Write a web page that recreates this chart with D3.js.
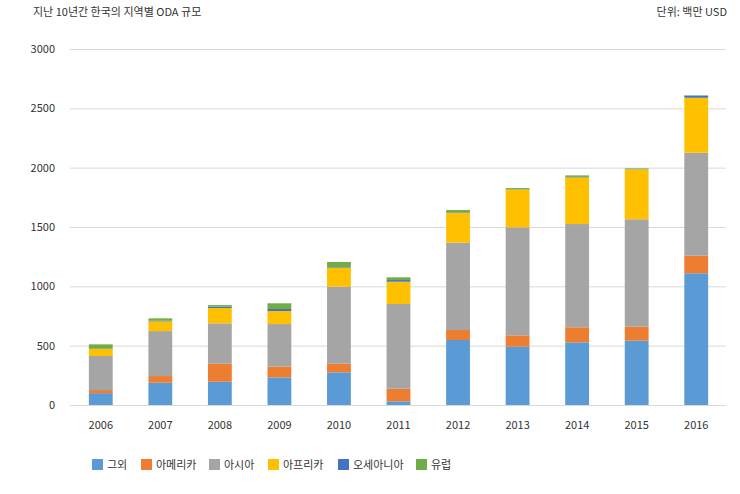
<!DOCTYPE html>
<html>
<head>
<meta charset="utf-8">
<script src="https://cdn.jsdelivr.net/npm/d3@7"></script>
<style>
  body { margin: 0; background: #fff; }
  text { font-family: "Noto Sans CJK KR", "Noto Sans", sans-serif; }
</style>
</head>
<body>
<div id="chart"></div>
<script>
var years = ["2006", "2007", "2008", "2009", "2010", "2011", "2012", "2013", "2014", "2015", "2016"];
var seriesNames = ["그외", "아메리카", "아시아", "아프리카", "오세아니아", "유럽"];
var seriesColors = ["#5B9BD5", "#ED7D31", "#A5A5A5", "#FFC000", "#4472C4", "#70AD47"];

var etc = [100, 188, 196, 233, 275, 31, 548, 491, 528, 542, 1110];
var america = [26, 56, 152, 90, 73, 106, 84, 96, 127, 118, 148];
var asia = [287, 379, 340, 359, 649, 714, 736, 910, 870, 905, 868];
var africa = [59, 82, 129, 110, 160, 188, 252, 320, 393, 421, 463];
var oceania = [4, 5, 12, 17, 5, 14, 5, 3, 4, 2, 18];
var europe = [35, 20, 13, 48, 43, 23, 18, 8, 13, 6, 3];

var yTicks = [0, 500, 1000, 1500, 2000, 2500, 3000];

var width = 740, height = 494;

var table = years.map(function (y, i) {
  return {
    year: y,
    "그외": etc[i],
    "아메리카": america[i],
    "아시아": asia[i],
    "아프리카": africa[i],
    "오세아니아": oceania[i],
    "유럽": europe[i]
  };
});

var svg = d3.select("#chart")
  .append("svg")
  .attr("width", width)
  .attr("height", height);

var x = d3.scaleBand()
  .domain(years)
  .range([71, 726])
  .paddingInner(0.6)
  .paddingOuter(0.3);

var y = d3.scaleLinear()
  .domain([0, 3000])
  .range([405, 49]);

var color = d3.scaleOrdinal().domain(seriesNames).range(seriesColors);

// title + unit
svg.append("text")
  .attr("x", 33).attr("y", 16)
  .style("font-size", "11px").style("fill", "#333")
  .text("지난 10년간 한국의 지역별 ODA 규모");
svg.append("text")
  .attr("x", 727).attr("y", 16)
  .attr("text-anchor", "end")
  .style("font-size", "11px").style("fill", "#333")
  .text("단위: 백만 USD");

// gridlines
svg.append("g")
  .selectAll("line")
  .data(yTicks)
  .enter()
  .append("line")
  .attr("x1", 70).attr("x2", 726)
  .attr("y1", function (d) { return y(d) + 0.5; })
  .attr("y2", function (d) { return y(d) + 0.5; })
  .style("stroke", "#d9d9d9")
  .style("stroke-width", 1);

// y axis labels
var yAxis = d3.axisLeft(y).tickValues(yTicks).tickFormat(d3.format("d")).tickSize(0).tickPadding(0);
svg.append("g")
  .attr("transform", "translate(55,0)")
  .call(yAxis)
  .call(function (g) { g.select(".domain").remove(); })
  .selectAll("text")
  .style("font-size", "11px")
  .style("fill", "#333");

// x axis labels
var xAxis = d3.axisBottom(x).tickSize(0).tickPadding(0);
svg.append("g")
  .attr("transform", "translate(0,421)")
  .call(xAxis)
  .call(function (g) { g.select(".domain").remove(); })
  .selectAll("text")
  .style("font-size", "11px")
  .style("fill", "#333");

// stacked bars
var stacked = d3.stack().keys(seriesNames)(table);

svg.append("g")
  .selectAll("g")
  .data(stacked)
  .enter()
  .append("g")
  .style("fill", function (d) { return color(d.key); })
  .selectAll("rect")
  .data(function (d) { return d; })
  .enter()
  .append("rect")
  .attr("x", function (d) { return x(d.data.year); })
  .attr("y", function (d) { return y(d[1]); })
  .attr("width", x.bandwidth())
  .attr("height", function (d) { return y(d[0]) - y(d[1]); });

// legend
var legendX = [92, 141, 209, 268, 338, 416];
var legend = svg.append("g")
  .selectAll("g")
  .data(seriesNames)
  .enter()
  .append("g")
  .attr("transform", function (d, i) { return "translate(" + legendX[i] + ",459)"; });

legend.append("rect")
  .attr("width", 11).attr("height", 11)
  .style("fill", function (d) { return color(d); });

legend.append("text")
  .attr("x", 15).attr("y", 9.5)
  .style("font-size", "11px")
  .style("fill", "#333")
  .text(function (d) { return d; });
</script>
</body>
</html>
